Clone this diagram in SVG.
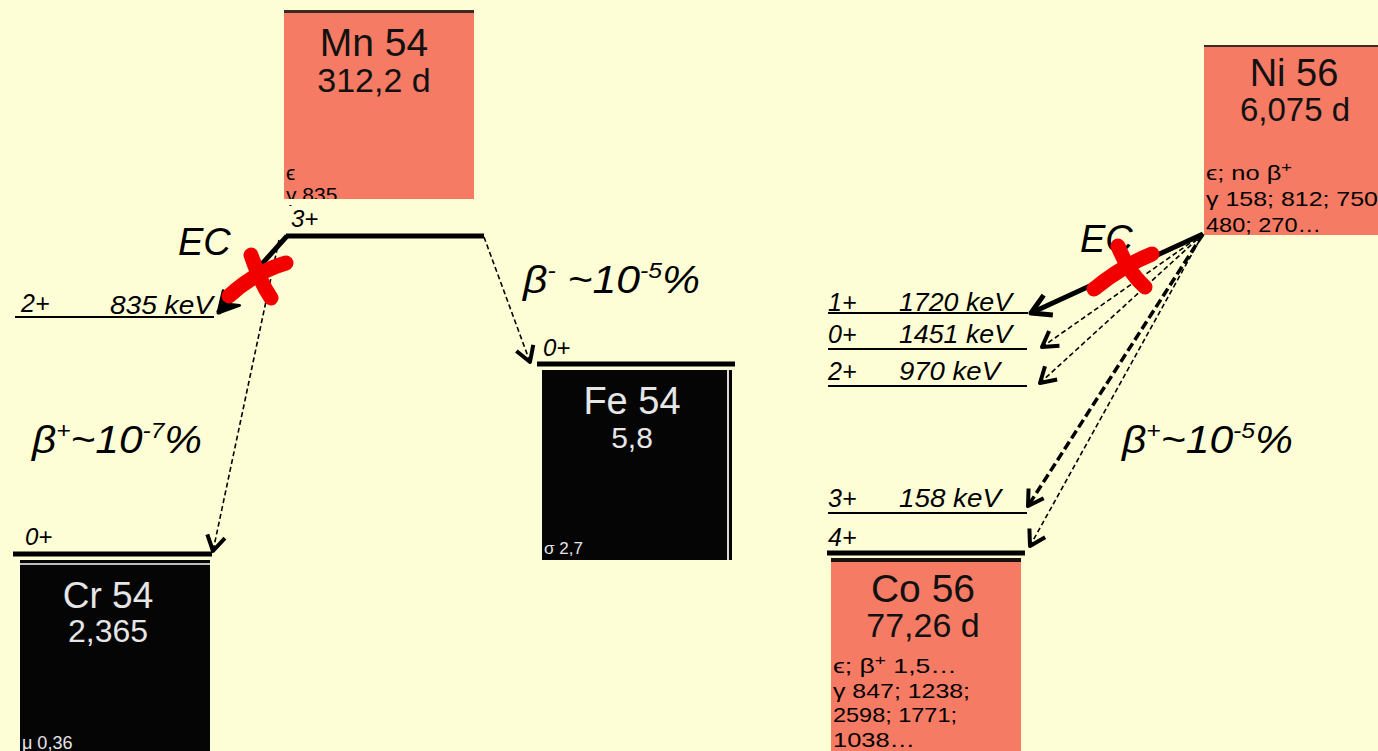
<svg xmlns="http://www.w3.org/2000/svg" width="1378" height="751" viewBox="0 0 1378 751">
<style>
.bg{fill:#FEFED6}
.salmon{fill:#F67B64}
.dark{fill:#050505}
.lbl{font-family:"Liberation Sans",Arial,sans-serif;font-style:italic;fill:#000}
.big{font-family:"Liberation Sans",Arial,sans-serif;font-style:italic;font-size:38px;fill:#000}
.box{font-family:"Liberation Sans",Arial,sans-serif;text-anchor:middle;fill:#111}
.boxw{font-family:"Liberation Sans",Arial,sans-serif;fill:#E6E6E6}
.mid{text-anchor:middle}
.small{font-family:"Liberation Sans",Arial,sans-serif;font-size:21px;fill:#000}
.thin{stroke:#000;stroke-width:2;fill:none}
.thick{stroke:#000;stroke-width:5;fill:none}
.ec{stroke:#000;stroke-width:5;fill:none}
.dash{stroke:#000;stroke-width:1.6;stroke-dasharray:5 3;fill:none}
.dashB{stroke:#000;stroke-width:3.5;stroke-dasharray:9 4;fill:none}
.cross{stroke:#F20000;stroke-width:15;stroke-linecap:round;fill:none}
</style>
<defs>
<marker id="v" viewBox="-20 -12 24 24" markerWidth="24" markerHeight="24" refX="0" refY="0" orient="auto" markerUnits="userSpaceOnUse">
<path d="M-15,-9 L0,0 L-15,9" stroke="#000" stroke-width="4" fill="none" stroke-linejoin="round"/>
</marker>
<marker id="vL" viewBox="-26 -14 30 28" markerWidth="30" markerHeight="28" refX="0" refY="0" orient="auto" markerUnits="userSpaceOnUse">
<path d="M-19,-11 L0,0 L-19,11" stroke="#000" stroke-width="5" fill="none" stroke-linejoin="round"/>
</marker>
<marker id="vf" viewBox="-26 -14 30 28" markerWidth="30" markerHeight="28" refX="0" refY="0" orient="auto" markerUnits="userSpaceOnUse">
<path d="M-20,-11 L0,0 L-20,11 L-12,0 Z" stroke="#000" stroke-width="3" fill="#000" stroke-linejoin="round"/>
</marker>
</defs>
<rect class="bg" x="0" y="0" width="1378" height="751"/>

<g id="Mn54">
<rect class="salmon" x="284" y="10" width="190" height="189"/>
<rect x="284" y="10" width="190" height="3" fill="#3a2a22"/>
<text class="box" x="374" y="56" font-size="39">Mn 54</text>
<text class="box" x="374" y="92" font-size="34">312,2 d</text>
<text class="small" x="286" y="180" font-size="16">ϵ</text>
<text class="small" x="286" y="202" font-size="19">γ 835</text>
<rect class="bg" x="280" y="199" width="200" height="6"/>
</g>

<g id="level-Mn54-3plus">
<line class="thick" x1="286" y1="236" x2="484" y2="236"/>
<text class="lbl" x="291" y="227" font-size="24">3+</text>
</g>

<g id="level-Cr54-2plus">
<line class="thin" x1="15" y1="317" x2="214" y2="317"/>
<text class="lbl" x="21" y="312" font-size="25">2+</text>
<text class="lbl" x="110" y="314" font-size="25" textLength="103" lengthAdjust="spacingAndGlyphs">835 keV</text>
</g>

<g id="level-Cr54-0plus">
<line class="thick" x1="13" y1="554" x2="212" y2="554"/>
<text class="lbl" x="25" y="545" font-size="24">0+</text>
</g>

<g id="Cr54">
<rect class="dark" x="20" y="560" width="190" height="191"/>
<rect x="20" y="563" width="190" height="2" fill="#bdbdbd"/>
<text class="boxw mid" x="108" y="608" font-size="37">Cr 54</text>
<text class="boxw mid" x="108" y="642" font-size="32">2,365</text>
<text class="boxw" x="22" y="749" font-size="18">μ 0,36</text>
</g>

<g id="level-Fe54-0plus">
<line class="thick" x1="537" y1="364" x2="735" y2="364"/>
<text class="lbl" x="543" y="356" font-size="24">0+</text>
</g>

<g id="Fe54">
<rect class="dark" x="542" y="370" width="190" height="190"/>
<rect x="727" y="370" width="2" height="190" fill="#d8d8d8"/>
<text class="boxw mid" x="632" y="414" font-size="38">Fe 54</text>
<text class="boxw mid" x="632" y="448" font-size="30">5,8</text>
<text class="boxw" x="544" y="554" font-size="17">σ 2,7</text>
</g>

<g id="Ni56">
<rect class="salmon" x="1204" y="45" width="174" height="190"/>
<rect x="1204" y="45" width="174" height="2" fill="#3a2a22"/>
<text class="box" x="1294" y="86" font-size="38">Ni 56</text>
<text class="box" x="1295" y="121" font-size="33">6,075 d</text>
<text class="small" x="1206" y="180" textLength="86" lengthAdjust="spacingAndGlyphs">ϵ; no β<tspan font-size="15" dy="-8">+</tspan></text>
<text class="small" x="1206" y="206" textLength="172" lengthAdjust="spacingAndGlyphs">γ 158; 812; 750</text>
<text class="small" x="1206" y="232" textLength="115" lengthAdjust="spacingAndGlyphs">480; 270…</text>
</g>

<g id="levels-Co56">
<line class="thin" x1="828" y1="313" x2="1028" y2="313"/>
<text class="lbl" x="828" y="311" font-size="25">1+</text>
<text class="lbl" x="899" y="311" font-size="25" textLength="113" lengthAdjust="spacingAndGlyphs">1720 keV</text>
<line class="thin" x1="828" y1="349" x2="1027" y2="349"/>
<text class="lbl" x="828" y="343" font-size="25">0+</text>
<text class="lbl" x="899" y="343" font-size="25" textLength="113" lengthAdjust="spacingAndGlyphs">1451 keV</text>
<line class="thin" x1="828" y1="386" x2="1027" y2="386"/>
<text class="lbl" x="828" y="380" font-size="25">2+</text>
<text class="lbl" x="899" y="380" font-size="25" textLength="101" lengthAdjust="spacingAndGlyphs">970 keV</text>
<line class="thin" x1="828" y1="513" x2="1027" y2="513"/>
<text class="lbl" x="828" y="507" font-size="25">3+</text>
<text class="lbl" x="899" y="507" font-size="25" textLength="102" lengthAdjust="spacingAndGlyphs">158 keV</text>
<line class="thick" x1="827" y1="553" x2="1025" y2="553"/>
<text class="lbl" x="828" y="546" font-size="25">4+</text>
</g>

<g id="Co56">
<rect class="salmon" x="831" y="558" width="190" height="193"/>
<rect x="831" y="558" width="190" height="4" fill="#1a1210"/>
<text class="box" x="923" y="602" font-size="39">Co 56</text>
<text class="box" x="923" y="637" font-size="34">77,26 d</text>
<text class="small" x="833" y="673" textLength="124" lengthAdjust="spacingAndGlyphs">ϵ; β<tspan font-size="15" dy="-8">+</tspan><tspan dy="8"> 1,5…</tspan></text>
<text class="small" x="833" y="698" textLength="137" lengthAdjust="spacingAndGlyphs">γ 847; 1238;</text>
<text class="small" x="833" y="722" textLength="124" lengthAdjust="spacingAndGlyphs">2598; 1771;</text>
<text class="small" x="833" y="747" textLength="82" lengthAdjust="spacingAndGlyphs">1038…</text>
</g>

<g id="connectors">
<line class="ec" x1="287" y1="236" x2="218" y2="313" marker-end="url(#vf)"/>
<line class="dash" x1="279" y1="240" x2="213" y2="551" marker-end="url(#v)"/>
<line class="dash" x1="484" y1="237" x2="530" y2="362" marker-end="url(#v)"/>
<line class="ec" x1="1203" y1="234" x2="1031" y2="313" marker-end="url(#vL)"/>
<line class="dash" x1="1203" y1="234" x2="1042" y2="347" marker-end="url(#v)"/>
<line class="dash" x1="1203" y1="234" x2="1040" y2="383" marker-end="url(#v)"/>
<line class="dashB" x1="1203" y1="234" x2="1028" y2="506" marker-end="url(#v)"/>
<line class="dash" x1="1203" y1="234" x2="1030" y2="546" marker-end="url(#v)"/>
</g>

<g id="labels">
<text class="big" x="178" y="255">EC</text>
<text class="big" x="1080" y="252">EC</text>
<text class="big" x="32" y="453" textLength="170" lengthAdjust="spacingAndGlyphs">β<tspan font-size="22" dy="-15">+</tspan><tspan dy="15">~10</tspan><tspan font-size="22" dy="-15">-7</tspan><tspan dy="15">%</tspan></text>
<text class="big" x="523" y="293" textLength="177" lengthAdjust="spacingAndGlyphs">β<tspan font-size="22" dy="-15">-</tspan><tspan dy="15"> ~10</tspan><tspan font-size="22" dy="-15">-5</tspan><tspan dy="15">%</tspan></text>
<text class="big" x="1122" y="453" textLength="171" lengthAdjust="spacingAndGlyphs">β<tspan font-size="22" dy="-15">+</tspan><tspan dy="15">~10</tspan><tspan font-size="22" dy="-15">-5</tspan><tspan dy="15">%</tspan></text>
</g>

<g id="cross-left">
<path class="cross" d="M229,296 Q255,272 286,263"/>
<path class="cross" d="M251,255 Q260,282 271,298"/>
</g>
<g id="cross-right">
<path class="cross" d="M1094,289 Q1122,266 1152,254"/>
<path class="cross" d="M1118,246 Q1128,272 1145,287"/>
</g>
</svg>
